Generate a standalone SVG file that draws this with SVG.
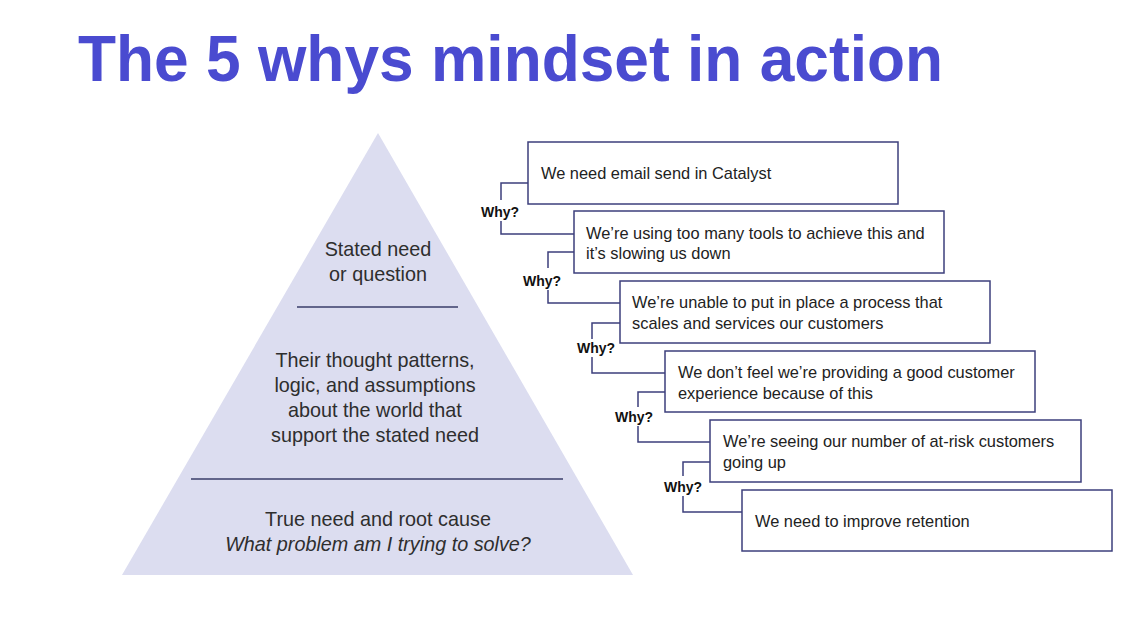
<svg xmlns="http://www.w3.org/2000/svg" width="1146" height="618" viewBox="0 0 1146 618">
<style>
.title{font-family:"Liberation Sans",Arial,sans-serif;font-weight:bold;font-size:64px;fill:#4a4bd0}
.pt{font-family:"Liberation Sans",Arial,sans-serif;font-size:19.8px;fill:#2e2e2e;text-anchor:middle}
.bx{fill:#fff;stroke:#3d3f7c;stroke-width:1.5}
.bt{font-family:"Liberation Sans",Arial,sans-serif;font-size:16.4px;fill:#222}
.why{font-family:"Liberation Sans",Arial,sans-serif;font-weight:bold;font-size:14px;fill:#111;text-anchor:middle}
.con{fill:none;stroke:#3d3f7c;stroke-width:1.5}
.sep{stroke:#3a3d6a;stroke-width:1.5}
</style>
<rect width="1146" height="618" fill="#fff"/>
<text class="title" x="78" y="81" textLength="865" lengthAdjust="spacingAndGlyphs">The 5 whys mindset in action</text>
<g id="pyramid">
<polygon points="378,133 633,575 122,575" fill="#dcddf0"/>
<line class="sep" x1="297" y1="307" x2="458" y2="307"/>
<line class="sep" x1="191" y1="479" x2="563" y2="479"/>
<text class="pt" x="378" y="256">Stated need</text>
<text class="pt" x="378" y="281">or question</text>
<text class="pt" x="375" y="367">Their thought patterns,</text>
<text class="pt" x="375" y="392">logic, and assumptions</text>
<text class="pt" x="375" y="417">about the world that</text>
<text class="pt" x="375" y="442">support the stated need</text>
<text class="pt" x="378" y="526">True need and root cause</text>
<text class="pt" x="378" y="551" font-style="italic">What problem am I trying to solve?</text>
</g>
<g id="connectors">
<polyline class="con" points="528,183 501,183 501,200"/>
<polyline class="con" points="501,221 501,234 574,234"/>
<polyline class="con" points="574,252 548,252 548,268"/>
<polyline class="con" points="548,290 548,303 620,303"/>
<polyline class="con" points="620,323 592,323 592,339"/>
<polyline class="con" points="592,357 592,373 665,373"/>
<polyline class="con" points="665,392 638,392 638,407"/>
<polyline class="con" points="638,426 638,442 710,442"/>
<polyline class="con" points="710,462 683,462 683,476"/>
<polyline class="con" points="683,496 683,512 742,512"/>
<text class="why" x="500" y="217">Why?</text>
<text class="why" x="542" y="286">Why?</text>
<text class="why" x="596" y="353">Why?</text>
<text class="why" x="634" y="422">Why?</text>
<text class="why" x="683" y="492">Why?</text>
</g>
<g id="box1"><rect class="bx" x="528" y="142" width="370" height="62"/><text class="bt" x="541" y="179">We need email send in Catalyst</text></g>
<g id="box2"><rect class="bx" x="574" y="211" width="370" height="62"/><text class="bt" x="586" y="239">We’re using too many tools to achieve this and</text><text class="bt" x="586" y="259">it’s slowing us down</text></g>
<g id="box3"><rect class="bx" x="620" y="281" width="370" height="62"/><text class="bt" x="632" y="308">We’re unable to put in place a process that</text><text class="bt" x="632" y="329">scales and services our customers</text></g>
<g id="box4"><rect class="bx" x="665" y="351" width="370" height="61"/><text class="bt" x="678" y="378">We don’t feel we’re providing a good customer</text><text class="bt" x="678" y="399">experience because of this</text></g>
<g id="box5"><rect class="bx" x="710" y="420" width="371" height="62"/><text class="bt" x="723" y="447">We’re seeing our number of at-risk customers</text><text class="bt" x="723" y="468">going up</text></g>
<g id="box6"><rect class="bx" x="742" y="490" width="370" height="61"/><text class="bt" x="755" y="527">We need to improve retention</text></g>
</svg>
